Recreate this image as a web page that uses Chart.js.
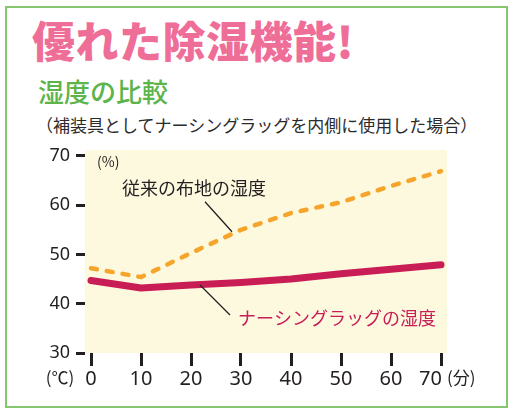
<!DOCTYPE html>
<html>
<head>
<meta charset="utf-8">
<script src="https://cdn.jsdelivr.net/npm/chart.js@4"></script>
<style>
  body { margin: 0; background: #fff; }
  #wrap { position: relative; width: 511px; height: 411px; overflow: hidden; }
  .frame { position: absolute; left: 5px; top: 6px; width: 499px; height: 398px; border: 2px solid #86c66f; }
  .txt { position: absolute; white-space: nowrap; line-height: 1; font-family: "Noto Sans CJK JP", sans-serif; }
  #title { left: 32px; top: 18px; font-size: 43px; font-weight: 900; color: #ee6e98; letter-spacing: 0.5px; }
  #sub { left: 38px; top: 78px; font-size: 26px; font-weight: 500; color: #5cb44a; }
  #note { left: 36px; top: 116px; font-size: 17px; color: #2b2b2b; }
  canvas { position: absolute; left: 0; top: 0; }
</style>
</head>
<body>
<div id="wrap">
  <div class="frame"></div>
  <div class="txt" id="title">優れた除湿機能!</div>
  <div class="txt" id="sub">湿度の比較</div>
  <div class="txt" id="note">（補装具としてナーシングラッグを内側に使用した場合）</div>
  <canvas id="chart" width="511" height="411"></canvas>
</div>
<script>
document.addEventListener("DOMContentLoaded", function () {
  // minutes
  const minutes = [0, 10, 20, 30, 40, 50, 60, 70];
  // humidity (%)
  const conventional = [47.2, 45.4, 50.3, 55.0, 58.4, 60.6, 63.9, 66.9];
  const nursingRug = [44.7, 43.2, 43.8, 44.3, 45.0, 46.1, 47.0, 47.9];
  const yTicks = [30, 40, 50, 60, 70];

  const jp = '"Noto Sans CJK JP", sans-serif';
  const tickFont = '"Noto Sans", sans-serif';
  const lastMinute = minutes[minutes.length - 1];

  // beige plot area + labels and leader lines
  const decor = {
    id: "decor",
    beforeDraw(chart) {
      const { ctx, chartArea } = chart;
      ctx.save();
      ctx.fillStyle = "#fdf9df";
      ctx.fillRect(chartArea.left, chartArea.top, chartArea.right - chartArea.left, chartArea.bottom - chartArea.top);
      ctx.restore();
    },
    afterDatasetsDraw(chart) {
      const { ctx } = chart;
      const xs = chart.scales.x, ys = chart.scales.y;
      const px = v => xs.getPixelForValue(v);
      const py = v => ys.getPixelForValue(v);

      ctx.save();
      // leader lines
      ctx.strokeStyle = "#222";
      ctx.lineWidth = 1.3;
      ctx.beginPath();
      ctx.moveTo(px(22.8), py(60.7));
      ctx.lineTo(px(28.2), py(54.6));
      ctx.moveTo(px(21.8), py(43.8));
      ctx.lineTo(px(27.8), py(37.7));
      ctx.stroke();

      ctx.textBaseline = "middle";
      ctx.font = "18px " + jp;
      ctx.fillStyle = "#231f20";
      ctx.textAlign = "center";
      ctx.fillText("従来の布地の湿度", px(20.6), py(63.5));

      ctx.fillStyle = "#c91d56";
      ctx.textAlign = "left";
      ctx.fillText("ナーシングラッグの湿度", px(29.4), py(37.1));

      ctx.fillStyle = "#231f20";
      ctx.font = "14px " + jp;
      ctx.fillText("(%)", px(1.2), py(68.8));

      // last x label sits right-aligned against its tick, next to the unit
      ctx.font = "20px " + tickFont;
      ctx.textAlign = "right";
      ctx.fillText(String(lastMinute), px(lastMinute) + 1, py(24.7));

      ctx.font = "17px " + jp;
      ctx.textAlign = "center";
      ctx.fillText("(℃)", px(-6.2), py(25.0));
      ctx.textAlign = "left";
      ctx.fillText("(分)", px(71.2), py(25.0));
      ctx.restore();
    }
  };

  const ctx = document.getElementById("chart").getContext("2d");
  new Chart(ctx, {
    type: "line",
    data: {
      datasets: [
        {
          label: "従来の布地の湿度",
          data: minutes.map((m, i) => ({ x: m, y: conventional[i] })),
          borderColor: "#f6a52c",
          borderWidth: 4.5,
          borderDash: [6, 10],
          borderCapStyle: "round",
          pointRadius: 0,
          tension: 0
        },
        {
          label: "ナーシングラッグの湿度",
          data: minutes.map((m, i) => ({ x: m, y: nursingRug[i] })),
          borderColor: "#c91d56",
          borderWidth: 7,
          borderCapStyle: "round",
          borderJoinStyle: "round",
          pointRadius: 0,
          tension: 0
        }
      ]
    },
    options: {
      responsive: false,
      animation: false,
      layout: { padding: { left: 0, right: 64, top: 150, bottom: 0 } },
      plugins: {
        legend: { display: false },
        tooltip: { enabled: false }
      },
      scales: {
        x: {
          type: "linear",
          min: -1.2,
          max: 71.2,
          border: { display: false },
          grid: { drawOnChartArea: false, drawTicks: true, tickLength: 13, tickWidth: 3, color: "#231f20" },
          ticks: {
            stepSize: 10,
            includeBounds: false,
            padding: 1,
            color: "#231f20",
            font: { family: tickFont, size: 20 },
            callback: v => (v === lastMinute ? "" : v)
          },
          afterFit(scale) { scale.height = 58; }
        },
        y: {
          min: 30,
          max: 71.2,
          border: { display: false },
          grid: { drawOnChartArea: false, drawTicks: true, tickLength: 9, tickWidth: 3, color: "#231f20" },
          ticks: {
            stepSize: 10,
            includeBounds: false,
            padding: 6,
            color: "#231f20",
            font: { family: tickFont, size: 18 },
            callback: v => (yTicks.includes(v) ? v : "")
          },
          afterFit(scale) { scale.width = 85; }
        }
      }
    },
    plugins: [decor]
  });
});
</script>
</body>
</html>
